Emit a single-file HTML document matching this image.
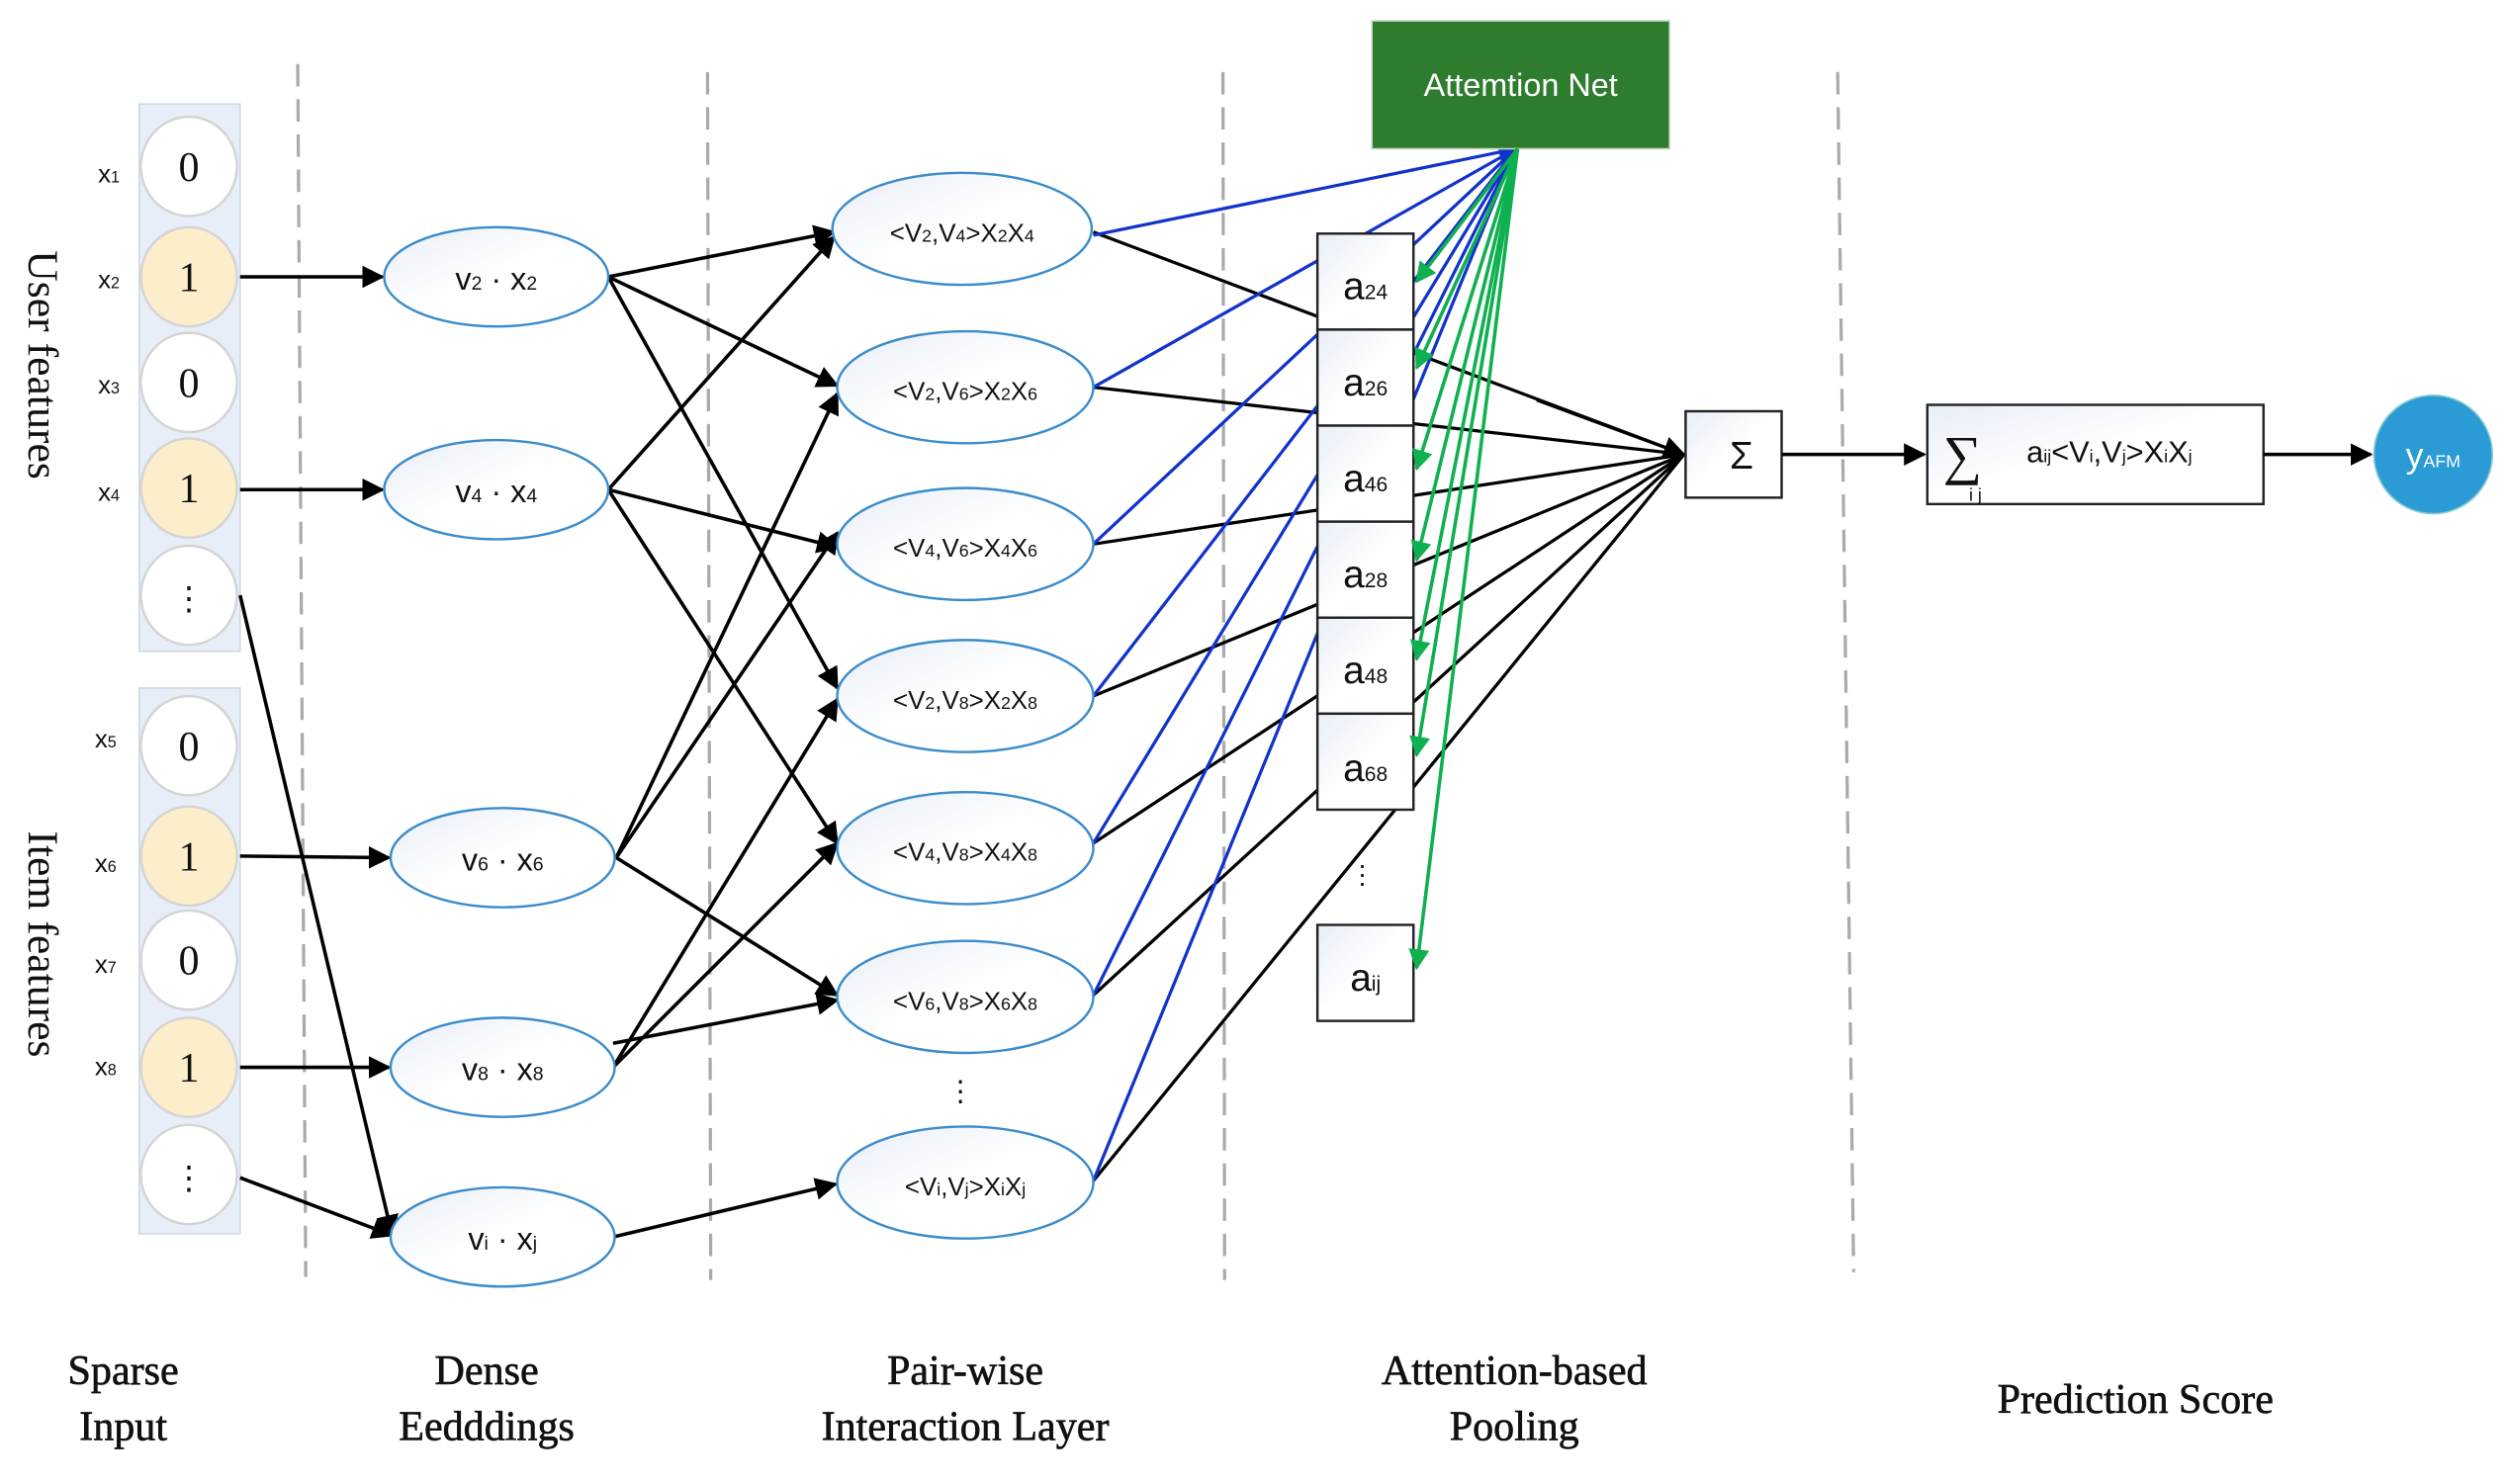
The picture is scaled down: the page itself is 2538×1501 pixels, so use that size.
<!DOCTYPE html>
<html><head><meta charset="utf-8"><style>
html,body{margin:0;padding:0;background:#fff}
svg{display:block}
text{font-family:"Liberation Sans",sans-serif}
.serif{font-family:"Liberation Serif",serif}
</style></head><body>
<svg width="2538" height="1501" viewBox="0 0 1568 927.4" preserveAspectRatio="none" xmlns="http://www.w3.org/2000/svg">
<defs>
<marker id="abig" viewBox="0 0 10 10" refX="9" refY="5" markerWidth="14" markerHeight="14" markerUnits="userSpaceOnUse" orient="auto"><path d="M0,0L10,5L0,10z" fill="#000"/></marker>
<marker id="ag" viewBox="0 0 10 10" refX="9" refY="5" markerWidth="13" markerHeight="13" markerUnits="userSpaceOnUse" orient="auto"><path d="M0,0L10,5L0,10z" fill="#0fb050"/></marker>
<marker id="abl" viewBox="0 0 10 10" refX="9" refY="5" markerWidth="12" markerHeight="12" markerUnits="userSpaceOnUse" orient="auto"><path d="M0,0L10,5L0,10z" fill="#1133cc"/></marker>
<linearGradient id="eg" x1="0" y1="0" x2="1" y2="1"><stop offset="0" stop-color="#e8eef8"/><stop offset="0.5" stop-color="#fff"/></linearGradient>
</defs>

<g stroke="#aaa" stroke-width="2" stroke-dasharray="14,8">
<line x1="186" y1="40" x2="191" y2="798"/>
<line x1="442" y1="45" x2="444" y2="800"/>
<line x1="764" y1="45" x2="765" y2="800"/>
<line x1="1148" y1="45" x2="1158" y2="795"/>
</g>

<rect x="87" y="65" width="63" height="342" fill="#e7eef8" stroke="#d0d8e4"/>
<rect x="87" y="430" width="63" height="341" fill="#e7eef8" stroke="#d0d8e4"/>
<g stroke="#d4d4d4" stroke-width="1.5">
<ellipse cx="118" cy="104" rx="30" ry="31" fill="#fff"/>
<ellipse cx="118" cy="173" rx="30" ry="31" fill="#fdeecb"/>
<ellipse cx="118" cy="239" rx="30" ry="31" fill="#fff"/>
<ellipse cx="118" cy="305" rx="30" ry="31" fill="#fdeecb"/>
<ellipse cx="118" cy="372" rx="30" ry="31" fill="#fff"/>
<ellipse cx="118" cy="466" rx="30" ry="31" fill="#fff"/>
<ellipse cx="118" cy="535" rx="30" ry="31" fill="#fdeecb"/>
<ellipse cx="118" cy="600" rx="30" ry="31" fill="#fff"/>
<ellipse cx="118" cy="667" rx="30" ry="31" fill="#fdeecb"/>
<ellipse cx="118" cy="734" rx="30" ry="31" fill="#fff"/>
</g>
<g font-size="26" text-anchor="middle" fill="#111">
<text x="118" y="113" class="serif">0</text><text x="118" y="182" class="serif">1</text>
<text x="118" y="248" class="serif">0</text><text x="118" y="314" class="serif">1</text>
<text x="118" y="475" class="serif">0</text><text x="118" y="544" class="serif">1</text>
<text x="118" y="609" class="serif">0</text><text x="118" y="676" class="serif">1</text>
<text x="118" y="381" font-size="20">⋮</text><text x="118" y="743" font-size="20">⋮</text>
</g>
<g font-size="16" fill="#111" text-anchor="middle">
<text x="68" y="114">x<tspan font-size="10">1</tspan></text>
<text x="68" y="180">x<tspan font-size="10">2</tspan></text>
<text x="68" y="246">x<tspan font-size="10">3</tspan></text>
<text x="68" y="313">x<tspan font-size="10">4</tspan></text>
<text x="66" y="467">x<tspan font-size="10">5</tspan></text>
<text x="66" y="545">x<tspan font-size="10">6</tspan></text>
<text x="66" y="608">x<tspan font-size="10">7</tspan></text>
<text x="66" y="672">x<tspan font-size="10">8</tspan></text>
</g>
<text class="serif" font-size="27" fill="#111" text-anchor="middle" transform="translate(18,228) rotate(90)">User features</text>
<text class="serif" font-size="27" fill="#111" text-anchor="middle" transform="translate(18,590) rotate(90)">Item features</text>

<g stroke="#000" stroke-width="2.2" marker-end="url(#abig)">
<line x1="150" y1="173" x2="239" y2="173"/>
<line x1="150" y1="306" x2="239" y2="306"/>
<line x1="150" y1="535" x2="243" y2="536"/>
<line x1="150" y1="667" x2="243" y2="667"/>
<line x1="150" y1="372" x2="245" y2="772"/>
<line x1="150" y1="736" x2="245" y2="772"/>
</g>

<g stroke="#000" stroke-width="2.2" marker-end="url(#abig)">
<line x1="380" y1="173" x2="521" y2="145"/>
<line x1="380" y1="173" x2="523" y2="241"/>
<line x1="380" y1="173" x2="523" y2="430"/>
<line x1="380" y1="306" x2="521" y2="148"/>
<line x1="380" y1="306" x2="523" y2="342"/>
<line x1="380" y1="306" x2="523" y2="527"/>
<line x1="385" y1="536" x2="523" y2="246"/>
<line x1="385" y1="536" x2="523" y2="333"/>
<line x1="385" y1="536" x2="523" y2="622"/>
<line x1="383" y1="667" x2="523" y2="437"/>
<line x1="383" y1="667" x2="523" y2="527"/>
<line x1="383" y1="652" x2="523" y2="625"/>
<line x1="383" y1="773" x2="522" y2="740"/>
</g>

<g stroke="#000" stroke-width="2" fill="none">
<line x1="683" y1="145" x2="1052" y2="284"/>
<line x1="683" y1="242" x2="1052" y2="284"/>
<line x1="683" y1="340" x2="1052" y2="284"/>
<line x1="683" y1="435" x2="1052" y2="284"/>
<line x1="683" y1="527" x2="1052" y2="284"/>
<line x1="683" y1="622" x2="1052" y2="284"/>
<line x1="683" y1="738" x2="1052" y2="284"/>
</g>
<g stroke="#1133cc" stroke-width="2" fill="none">
<line x1="683" y1="147" x2="947" y2="93" marker-end="url(#abl)"/>
<line x1="683" y1="242" x2="947" y2="93"/>
<line x1="683" y1="340" x2="947" y2="93"/>
<line x1="683" y1="435" x2="947" y2="93"/>
<line x1="683" y1="527" x2="947" y2="93"/>
<line x1="683" y1="622" x2="947" y2="93"/>
<line x1="683" y1="738" x2="947" y2="93"/>
</g>

<g stroke="#3a8ccc" stroke-width="1.5" fill="url(#eg)">
<ellipse cx="310" cy="173" rx="70" ry="31"/>
<ellipse cx="310" cy="306" rx="70" ry="31"/>
<ellipse cx="314" cy="536" rx="70" ry="31"/>
<ellipse cx="314" cy="667" rx="70" ry="31"/>
<ellipse cx="314" cy="773" rx="70" ry="31"/>
<ellipse cx="601" cy="143" rx="81" ry="35"/>
<ellipse cx="603" cy="242" rx="80" ry="35"/>
<ellipse cx="603" cy="340" rx="80" ry="35"/>
<ellipse cx="603" cy="435" rx="80" ry="35"/>
<ellipse cx="603" cy="530" rx="80" ry="35"/>
<ellipse cx="603" cy="623" rx="80" ry="35"/>
<ellipse cx="603" cy="739" rx="80" ry="35"/>
</g>
<g font-size="20" fill="#111" text-anchor="middle">
<text x="310" y="181">v<tspan font-size="12">2</tspan>  ·  x<tspan font-size="12">2</tspan></text>
<text x="310" y="314">v<tspan font-size="12">4</tspan>  ·  x<tspan font-size="12">4</tspan></text>
<text x="314" y="544">v<tspan font-size="12">6</tspan>  ·  x<tspan font-size="12">6</tspan></text>
<text x="314" y="675">v<tspan font-size="12">8</tspan>  ·  x<tspan font-size="12">8</tspan></text>
<text x="314" y="781">v<tspan font-size="12">i</tspan>  ·  x<tspan font-size="12">j</tspan></text>
</g>
<g font-size="16" fill="#111" text-anchor="middle">
<text x="601" y="151">&lt;V<tspan font-size="11">2</tspan>,V<tspan font-size="11">4</tspan>&gt;X<tspan font-size="11">2</tspan>X<tspan font-size="11">4</tspan></text>
<text x="603" y="250">&lt;V<tspan font-size="11">2</tspan>,V<tspan font-size="11">6</tspan>&gt;X<tspan font-size="11">2</tspan>X<tspan font-size="11">6</tspan></text>
<text x="603" y="348">&lt;V<tspan font-size="11">4</tspan>,V<tspan font-size="11">6</tspan>&gt;X<tspan font-size="11">4</tspan>X<tspan font-size="11">6</tspan></text>
<text x="603" y="443">&lt;V<tspan font-size="11">2</tspan>,V<tspan font-size="11">8</tspan>&gt;X<tspan font-size="11">2</tspan>X<tspan font-size="11">8</tspan></text>
<text x="603" y="538">&lt;V<tspan font-size="11">4</tspan>,V<tspan font-size="11">8</tspan>&gt;X<tspan font-size="11">4</tspan>X<tspan font-size="11">8</tspan></text>
<text x="603" y="631">&lt;V<tspan font-size="11">6</tspan>,V<tspan font-size="11">8</tspan>&gt;X<tspan font-size="11">6</tspan>X<tspan font-size="11">8</tspan></text>
<text x="603" y="747">&lt;V<tspan font-size="11">i</tspan>,V<tspan font-size="11">j</tspan>&gt;X<tspan font-size="11">i</tspan>X<tspan font-size="11">j</tspan></text>
<text x="600" y="688" font-size="18">⋮</text>
</g>

<rect x="857" y="13" width="186" height="80" fill="#2e7d2e" stroke="#c8d8c8" stroke-width="1"/>
<text x="950" y="60" font-size="20" fill="#fff" text-anchor="middle">Attemtion Net</text>

<g stroke="#222" stroke-width="1.5" fill="url(#eg)">
<rect x="823" y="146" width="60" height="60"/>
<rect x="823" y="206" width="60" height="60"/>
<rect x="823" y="266" width="60" height="60"/>
<rect x="823" y="326" width="60" height="60"/>
<rect x="823" y="386" width="60" height="60"/>
<rect x="823" y="446" width="60" height="60"/>
<rect x="823" y="578" width="60" height="60"/>
</g>
<g font-size="24" fill="#111" text-anchor="middle">
<text x="853" y="187">a<tspan font-size="13">24</tspan></text>
<text x="853" y="247">a<tspan font-size="13">26</tspan></text>
<text x="853" y="307">a<tspan font-size="13">46</tspan></text>
<text x="853" y="367">a<tspan font-size="13">28</tspan></text>
<text x="853" y="427">a<tspan font-size="13">48</tspan></text>
<text x="853" y="488">a<tspan font-size="13">68</tspan></text>
<text x="853" y="619">a<tspan font-size="13">ij</tspan></text>
<text x="851" y="552" font-size="16">⋮</text>
</g>

<line x1="960" y1="250" x2="1052" y2="284" stroke="#000" stroke-width="2" marker-end="url(#abig)"/>

<g stroke="#0fb050" stroke-width="2.2" marker-end="url(#ag)">
<line x1="948" y1="93" x2="885" y2="176"/>
<line x1="948" y1="93" x2="885" y2="230"/>
<line x1="948" y1="93" x2="885" y2="293"/>
<line x1="948" y1="93" x2="885" y2="350"/>
<line x1="948" y1="93" x2="885" y2="412"/>
<line x1="948" y1="93" x2="885" y2="472"/>
<line x1="948" y1="93" x2="885" y2="605"/>
</g>

<rect x="1053" y="257" width="60" height="54" fill="url(#eg)" stroke="#222" stroke-width="1.5"/>
<text x="1088" y="293" font-size="24" text-anchor="middle" fill="#111">Σ</text>
<line x1="1113" y1="284" x2="1202" y2="284" stroke="#000" stroke-width="2.2" marker-end="url(#abig)"/>
<rect x="1204" y="253" width="210" height="62" fill="url(#eg)" stroke="#222" stroke-width="1.5"/>
<text x="1226" y="296" font-size="34" text-anchor="middle" fill="#111" class="serif">∑</text>
<text x="1234" y="313" font-size="11" text-anchor="middle" fill="#111">i j</text>
<text x="1266" y="289" font-size="19" fill="#111">a<tspan font-size="11">ij</tspan>&lt;V<tspan font-size="11">i</tspan>,V<tspan font-size="11">j</tspan>&gt;X<tspan font-size="11">i</tspan>X<tspan font-size="11">j</tspan></text>
<line x1="1414" y1="284" x2="1481" y2="284" stroke="#000" stroke-width="2.2" marker-end="url(#abig)"/>
<ellipse cx="1520" cy="284" rx="37" ry="37" fill="#2a9bd4" stroke="#8cc" stroke-width="1"/>
<text x="1520" y="292" font-size="22" fill="#fff" text-anchor="middle">y<tspan font-size="11">AFM</tspan></text>

<g font-size="26" fill="#111" text-anchor="middle" stroke="#111" stroke-width="0.4">
<text x="77" y="865" class="serif">Sparse</text><text x="77" y="900" class="serif">Input</text>
<text x="304" y="865" class="serif">Dense</text><text x="304" y="900" class="serif">Eedddings</text>
<text x="603" y="865" class="serif">Pair-wise</text><text x="603" y="900" class="serif">Interaction Layer</text>
<text x="946" y="865" class="serif">Attention-based</text><text x="946" y="900" class="serif">Pooling</text>
<text x="1334" y="883" class="serif">Prediction Score</text>
</g>
</svg>
</body></html>
